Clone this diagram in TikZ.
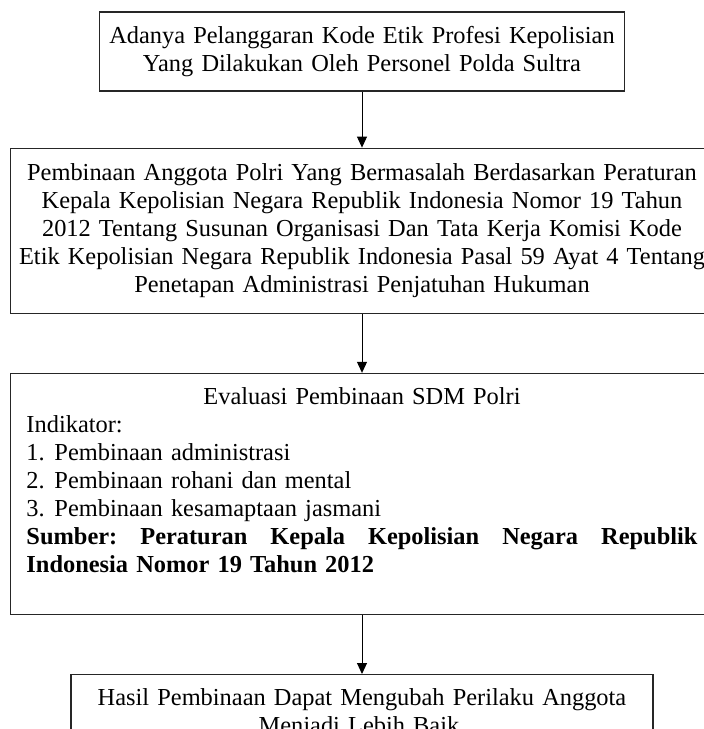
\documentclass[tikz,border=0pt]{standalone}
\usepackage{fontspec}
\setmainfont{Liberation Serif}
\usepackage{tikz}
\usetikzlibrary{arrows.meta, positioning}

\begin{document}
\begin{tikzpicture}[
        x=1pt, y=1pt,
        node distance=56pt and 0pt,
        box/.style={rectangle, draw=black!85, line width=1.2pt, align=center, font=\fontsize{24.4}{28}\selectfont, inner xsep=8pt, inner ysep=0pt},
        listbox/.style={box, align=left, inner xsep=16pt},
        arrow/.style={-{Triangle[length=11pt, width=10pt]}, line width=1pt, black}
    ]
        \useasboundingbox (0,0) rectangle (704,-729);
        \clip (0,0) rectangle (704,-729);

        \node[box, text width=509pt, minimum height=79pt] (pelanggaran) at (362,-51.5) {Adanya Pelanggaran Kode Etik Profesi Kepolisian\\Yang Dilakukan Oleh Personel Polda Sultra};
        \node[box, below=56pt of pelanggaran, text width=687pt, minimum height=165pt] (pembinaan) {Pembinaan Anggota Polri Yang Bermasalah Berdasarkan Peraturan\\Kepala Kepolisian Negara Republik Indonesia Nomor 19 Tahun\\2012 Tentang Susunan Organisasi Dan Tata Kerja Komisi Kode\\Etik Kepolisian Negara Republik Indonesia Pasal 59 Ayat 4 Tentang\\Penetapan Administrasi Penjatuhan Hukuman};
        \node[listbox, below=59pt of pembinaan, text width=671pt, minimum height=241pt] (evaluasi) {\makebox[671pt][c]{Evaluasi Pembinaan SDM Polri}\\
            Indikator:\\
            \makebox[28pt][l]{1.}Pembinaan administrasi\\
            \makebox[28pt][l]{2.}Pembinaan rohani dan mental\\
            \makebox[28pt][l]{3.}Pembinaan kesamaptaan jasmani\\
            \textbf{Sumber:\hfill Peraturan\hfill Kepala\hfill Kepolisian\hfill Negara\hfill Republik}\\
            \textbf{Indonesia Nomor 19 Tahun 2012}\\
            \mbox{}};
        \node[box, below=59pt of evaluasi, text width=566pt, minimum height=79pt] (hasil) {Hasil Pembinaan Dapat Mengubah Perilaku Anggota\\Menjadi Lebih Baik.};

        \draw[arrow] (pelanggaran) -- (pembinaan);
        \draw[arrow] (pembinaan) -- (evaluasi);
        \draw[arrow] (evaluasi) -- (hasil);
    \end{tikzpicture}
\end{document}
